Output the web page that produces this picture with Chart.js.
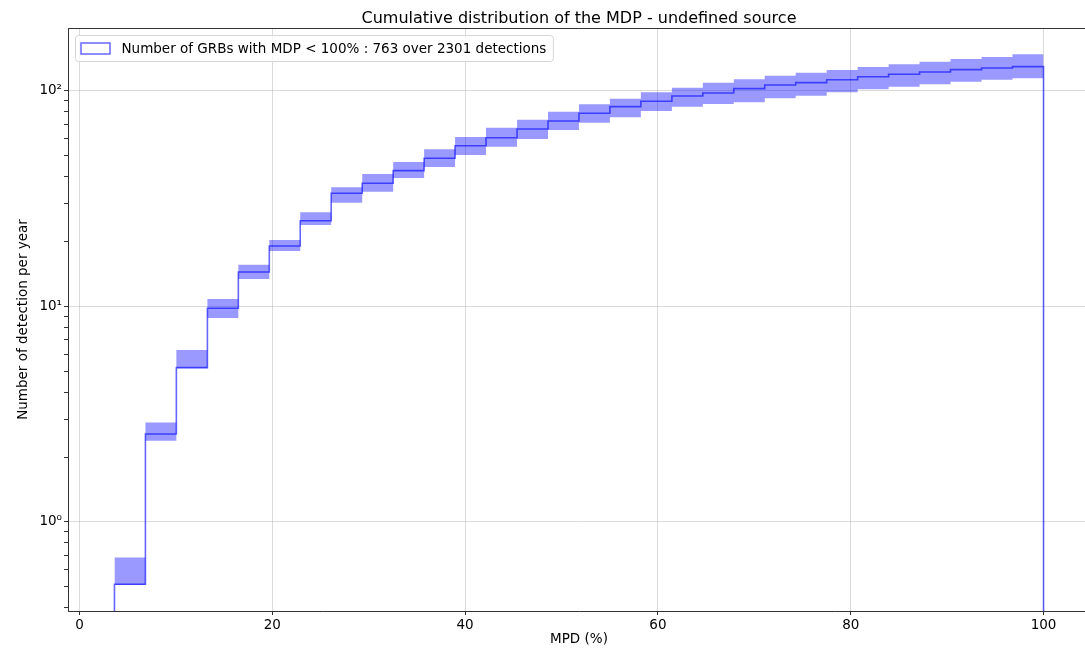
<!DOCTYPE html>
<html>
<head>
<meta charset="utf-8">
<style>
  html, body { margin: 0; padding: 0; background: #fff; overflow: hidden; }
  canvas { display: block; }
</style>
</head>
<body>
<canvas id="mdpChart" width="1092" height="649"></canvas>
<script src="https://cdn.jsdelivr.net/npm/chart.js@4.4.1/dist/chart.umd.min.js"></script>
<script>
const chartTitle = "Cumulative distribution of the MDP - undefined source";
const legendLabel = "Number of GRBs with MDP < 100% : 763 over 2301 detections";
const xTitle = "MPD (%)";
const yTitle = "Number of detection per year";

// 30 histogram bins on MDP (%)
const binEdges = [
  3.63, 6.84, 10.05, 13.27, 16.48, 19.69, 22.90, 26.11, 29.33, 32.54,
  35.75, 38.96, 42.17, 45.39, 48.60, 51.81, 55.02, 58.23, 61.45, 64.66,
  67.87, 71.08, 74.29, 77.51, 80.72, 83.93, 87.14, 90.35, 93.57, 96.78, 100,
];
// cumulative detections per year
const detections = [
  0.514, 2.56, 5.20, 9.81, 14.46, 19.09, 25.0, 33.5, 37.3, 42.7,
  48.7, 55.7, 60.7, 66.6, 72.6, 78.8, 84.6, 89.6, 94.8, 97.9,
  102.5, 106.6, 109.3, 112.8, 116.5, 119.5, 122.5, 125.6, 127.9, 129.7,
];
const detectionsHigh = [
  0.683, 2.89, 6.28, 10.83, 15.63, 20.35, 27.36, 35.74, 41.19, 46.83,
  53.63, 61.17, 67.56, 73.57, 80.17, 86.77, 92.11, 98.62, 103.6, 109.3,
  113.3, 117.8, 121.6, 125.2, 129.3, 133.0, 136.8, 140.8, 143.8, 148.2,
];
const detectionsLow = [
  0.51, 2.38, 5.16, 8.84, 13.42, 18.09, 23.89, 30.32, 34.10, 39.48,
  44.41, 50.47, 55.15, 59.88, 65.92, 71.25, 75.51, 80.75, 84.56, 87.05,
  88.66, 92.50, 95.10, 98.62, 101.8, 104.7, 107.4, 110.4, 112.8, 114.5,
];
// step hist goes down to zero at both ends (below the log axis)
const histBase = 0.01;

const xTicks = [0, 20, 40, 60, 80, 100];
const yMajorTicks = [1, 10, 100];
const yMajorLabels = ["10⁰", "10¹", "10²"];
const yMinorTicks = [0.4, 0.5, 0.6, 0.7, 0.8, 0.9, 2, 3, 4, 5, 6, 7, 8, 9, 20, 30, 40, 50, 60, 70, 80, 90];

const blueLine = "rgba(0, 0, 255, 0.6)";
const blueFill = "rgba(0, 0, 255, 0.4)";
const gridColor = "rgba(176, 176, 176, 0.45)";
const spineColor = "#333";
const fontFamily = "'DejaVu Sans', sans-serif";

Chart.defaults.font.family = fontFamily;
Chart.defaults.color = "#000";

const toSteps = arr => [
  ...arr.map((v, i) => ({ x: binEdges[i], y: v })),
  { x: binEdges[arr.length], y: arr[arr.length - 1] },
];

const histLine = [
  { x: binEdges[0], y: histBase },
  ...detections.map((v, i) => ({ x: binEdges[i], y: v })),
  { x: binEdges[binEdges.length - 1], y: histBase },
];

// matplotlib-ish box: top/right spines, title and framed legend
const mplFrame = {
  id: "mplFrame",
  afterDraw: chart => {
    const { ctx, chartArea: area } = chart;
    ctx.save();
    ctx.strokeStyle = spineColor;
    ctx.lineWidth = 1;
    ctx.beginPath();
    ctx.moveTo(area.left, area.top + 0.5);
    ctx.lineTo(area.right - 0.5, area.top + 0.5);
    ctx.lineTo(area.right - 0.5, area.bottom);
    ctx.stroke();

    ctx.fillStyle = "#000";
    ctx.font = `16px ${fontFamily}`;
    ctx.textAlign = "center";
    ctx.textBaseline = "alphabetic";
    ctx.fillText(chartTitle, (area.left + area.right) / 2, area.top - 5.5);

    ctx.font = `13.5px ${fontFamily}`;
    const textW = ctx.measureText(legendLabel).width;
    const bx = area.left + 7.5;
    const by = area.top + 7.5;
    ctx.beginPath();
    ctx.roundRect(bx, by, 46 + textW + 7, 26, 3);
    ctx.fillStyle = "rgba(255, 255, 255, 0.8)";
    ctx.fill();
    ctx.strokeStyle = "#d6d6d6";
    ctx.stroke();

    ctx.strokeStyle = blueLine;
    ctx.lineWidth = 1.5;
    ctx.strokeRect(bx + 5.5, by + 7.5, 29, 11);

    ctx.fillStyle = "#000";
    ctx.textAlign = "left";
    ctx.textBaseline = "middle";
    ctx.fillText(legendLabel, bx + 46, by + 13.5);
    ctx.restore();
  },
};

const ctx = document.querySelector("#mdpChart");

let opts = {
  type: "line",
  data: {
    datasets: [
      {
        label: "upper",
        data: toSteps(detectionsHigh),
        stepped: "before",
        borderWidth: 0,
        borderColor: "rgba(0,0,0,0)",
        backgroundColor: blueFill,
        fill: "+1",
        pointRadius: 0,
      },
      {
        label: "lower",
        data: toSteps(detectionsLow),
        stepped: "before",
        borderWidth: 0,
        borderColor: "rgba(0,0,0,0)",
        fill: false,
        pointRadius: 0,
      },
      {
        label: legendLabel,
        data: histLine,
        stepped: "before",
        borderColor: blueLine,
        borderWidth: 1.6,
        fill: false,
        pointRadius: 0,
      },
    ],
  },
  options: {
    responsive: false,
    animation: false,
    events: [],
    layout: {
      padding: { top: 28, right: 2, bottom: 0, left: 0 },
    },
    scales: {
      x: {
        type: "linear",
        min: -1.19,
        max: 104.82,
        afterFit: scale => {
          scale.height = 38;
        },
        afterBuildTicks: scale => {
          scale.ticks = xTicks.map(v => ({ value: v }));
        },
        ticks: {
          font: { size: 13.5 },
          padding: 2,
          maxRotation: 0,
          autoSkip: false,
        },
        grid: {
          color: gridColor,
          tickColor: spineColor,
          tickLength: 4,
        },
        border: { color: spineColor, width: 1 },
        title: {
          display: true,
          text: xTitle,
          font: { size: 13.5 },
          padding: { top: 0, bottom: 1 },
        },
      },
      y: {
        type: "logarithmic",
        min: 0.386,
        max: 196,
        afterFit: scale => {
          scale.width = 68;
        },
        afterBuildTicks: scale => {
          scale.ticks = [...yMinorTicks, ...yMajorTicks].sort((a, b) => a - b).map(v => ({ value: v }));
        },
        ticks: {
          font: { size: 13.5 },
          padding: 2,
          autoSkip: false,
          callback: value => {
            const i = yMajorTicks.indexOf(value);
            return i >= 0 ? yMajorLabels[i] : "";
          },
        },
        grid: {
          color: c => (c.tick && yMajorTicks.includes(c.tick.value) ? gridColor : "rgba(0,0,0,0)"),
          tickColor: spineColor,
          tickLength: 4,
        },
        border: { color: spineColor, width: 1 },
        title: {
          display: true,
          text: yTitle,
          font: { size: 13.5 },
          padding: { top: 15, bottom: 0 },
        },
      },
    },
    plugins: {
      legend: { display: false },
      tooltip: { enabled: false },
    },
  },
  plugins: [mplFrame],
};

const mdpChart = new Chart(ctx, opts);
</script>
</body>
</html>
